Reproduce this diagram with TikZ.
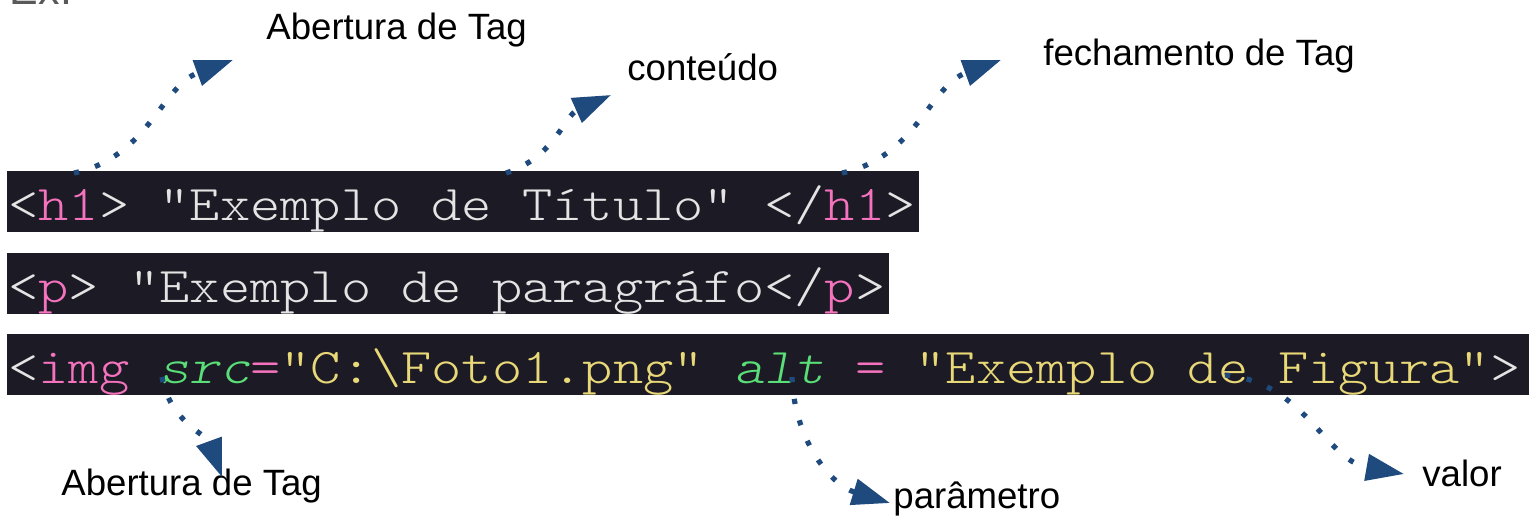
\documentclass[tikz,border=0pt]{standalone}
\usepackage{fontspec}
\setmainfont{Liberation Sans}
\newfontfamily\codefont{lmmonolt10-regular.otf}[ItalicFont=lmmonolt10-oblique.otf, FakeStretch=1.152]
\usetikzlibrary{arrows.meta}
\definecolor{codebg}{RGB}{28,26,36}
\definecolor{codefg}{RGB}{228,228,228}
\definecolor{tagpink}{RGB}{245,115,190}
\definecolor{attrgreen}{RGB}{90,222,120}
\definecolor{stryellow}{RGB}{232,216,120}
\definecolor{arrowblue}{RGB}{31,74,125}
\newcommand{\tagname}[1]{\textcolor{tagpink}{#1}}
\newcommand{\attrname}[1]{\textcolor{attrgreen}{\itshape #1}}
\newcommand{\strval}[1]{\textcolor{stryellow}{#1}}
\newcommand{\codesize}{\codefont\fontsize{25pt}{30pt}\selectfont\fontdimen2\font=15.12pt\fontdimen3\font=0pt\fontdimen4\font=0pt}
\tikzset{
    code-bar/.style = {fill=codebg, text=codefg, inner xsep=0.5pt, inner ysep=0pt, text height=24.5pt, text depth=6pt, anchor=north west, font=\codesize},
    tag-label/.style = {anchor=base west, inner sep=0pt, font=\fontsize{18.3pt}{22pt}\selectfont},
    dot-arrow/.style = {draw=arrowblue, line width=2.6pt, dash pattern=on 2.6pt off 8.4pt, -{Triangle[length=19pt,width=13pt]}},
}

\begin{document}
\begin{tikzpicture}[x=0.5pt, y=-0.5pt]
\useasboundingbox (0,0) rectangle (1529,516);
\node[tag-label, text=black!65, font=\fontsize{21.5pt}{26pt}\selectfont] (ex) at (9.5,4) {Ex:};
% linhas de codigo
\node[code-bar] (line-h1) at (7,171) {\makebox[455pt][l]{<\tagname{h1}> "Exemplo de Título" </\tagname{h1}>}};
\node[code-bar] (line-p) at (7,253) {\makebox[440pt][l]{<\tagname{p}> "Exemplo de paragráfo</\tagname{p}>}};
\node[code-bar] (line-img) at (7,334) {\makebox[760pt][l]{<\tagname{img} \attrname{src}\tagname{=}\strval{"C:\textbackslash Foto1.png"} \attrname{alt} \tagname{=} \strval{"Exemplo de Figura"}>}};
% rotulos
\node[tag-label] (open-top) at (266,39) {Abertura de Tag};
\node[tag-label] (content) at (627,80) {conteúdo};
\node[tag-label] (close-top) at (1043,65) {fechamento de Tag};
\node[tag-label] (open-bottom) at (61,495) {Abertura de Tag};
\node[tag-label] (param) at (893,508) {parâmetro};
\node[tag-label] (value) at (1422,486) {valor};
% pontos das setas
\coordinate (h1-open) at (74,173);
\coordinate (h1-open-tip) at (233,60);
\coordinate (h1-text) at (506,173);
\coordinate (h1-text-tip) at (611,95);
\coordinate (h1-close) at (842,173);
\coordinate (h1-close-tip) at (1001,60);
\coordinate (img-src) at (162,377);
\coordinate (img-src-tip) at (222,477);
\coordinate (img-alt) at (792,377);
\coordinate (img-alt-tip) at (890,503);
\coordinate (img-value) at (1225,375);
\coordinate (img-value-tip) at (1404,474);
\draw[dot-arrow] (h1-open) to[out=12, in=200] (h1-open-tip);
\draw[dot-arrow] (h1-text) to[out=18, in=204] (h1-text-tip);
\draw[dot-arrow] (h1-close) to[out=12, in=200] (h1-close-tip);
\draw[dot-arrow] (img-src) to[out=-80, in=110] (img-src-tip);
\draw[dot-arrow] (img-alt) to[out=-88, in=163] (img-alt-tip);
\draw[dot-arrow] (img-value) to[out=-5, in=170] (img-value-tip);
\end{tikzpicture}
\end{document}
